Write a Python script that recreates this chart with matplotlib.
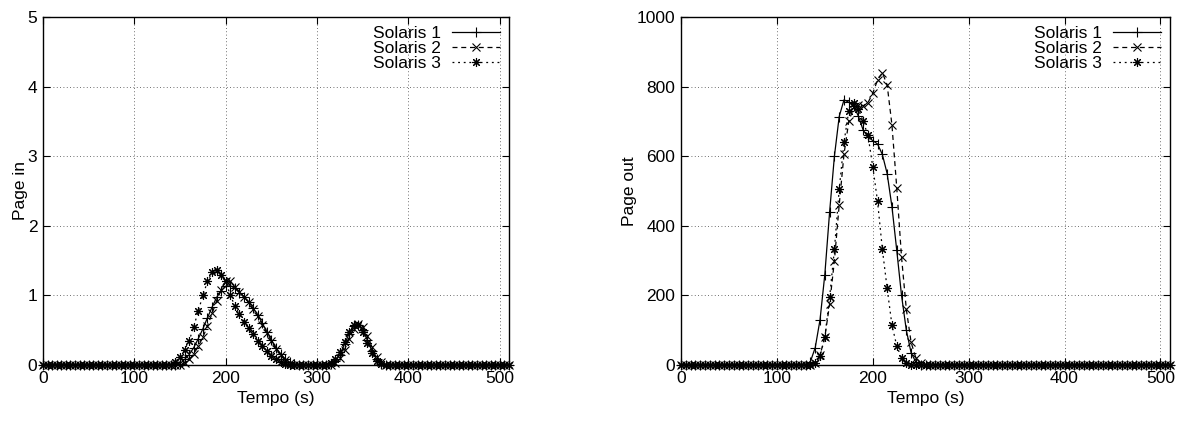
import matplotlib.pyplot as plt
import numpy as np

plt.rcParams['font.family'] = ['Liberation Sans', 'DejaVu Sans']
plt.rcParams['font.size'] = 12.5

# sample times (s), one sample every 5 s
tempo = np.arange(0, 515, 5)

# ---- Page in (left) : non-zero stretches, start time -> values every 5 s
pin_s1_a_start, pin_s1_a = 150, [0.02, 0.08, 0.15, 0.25, 0.38, 0.52, 0.68, 0.83, 0.97, 1.07, 1.13, 1.14,
                                 1.10, 1.04, 0.98, 0.90, 0.82, 0.72, 0.60, 0.48, 0.36, 0.25, 0.16, 0.09,
                                 0.04, 0.01]
pin_s1_b_start, pin_s1_b = 315, [0.02, 0.06, 0.15, 0.30, 0.45, 0.56, 0.58, 0.50, 0.36, 0.20, 0.08, 0.02]

pin_s2_a_start, pin_s2_a = 155, [0.03, 0.08, 0.16, 0.27, 0.40, 0.56, 0.74, 0.92, 1.08, 1.20, 1.20, 1.12,
                                 1.05, 0.98, 0.90, 0.80, 0.70, 0.58, 0.46, 0.34, 0.23, 0.14, 0.07, 0.03]
pin_s2_b_start, pin_s2_b = 320, [0.03, 0.10, 0.22, 0.38, 0.52, 0.59, 0.55, 0.42, 0.26, 0.12, 0.04]

pin_s3_a_start, pin_s3_a = 145, [0.05, 0.12, 0.22, 0.35, 0.55, 0.78, 1.00, 1.20, 1.33, 1.36, 1.30, 1.20,
                                 1.00, 0.85, 0.73, 0.62, 0.53, 0.44, 0.35, 0.27, 0.20, 0.13, 0.08, 0.04,
                                 0.01]
pin_s3_b_start, pin_s3_b = 315, [0.03, 0.08, 0.18, 0.33, 0.48, 0.57, 0.57, 0.47, 0.32, 0.17, 0.06, 0.01]

# ---- Page out (right)
pout_s1_start, pout_s1 = 130, [0, 10, 50, 130, 260, 440, 600, 714, 762, 755, 745, 715, 675, 655, 645,
                               635, 605, 550, 455, 330, 200, 100, 35, 8, 0]
pout_s2_start, pout_s2 = 140, [5, 28, 80, 175, 300, 460, 606, 700, 740, 748, 745, 754, 781, 819, 840,
                               805, 690, 510, 310, 160, 65, 20, 5]
pout_s3_start, pout_s3 = 140, [5, 25, 80, 195, 332, 505, 640, 730, 753, 735, 700, 660, 570, 470, 333,
                               220, 115, 55, 20, 5, 0]

nomi = ['Solaris 1', 'Solaris 2', 'Solaris 3']


def serie(*tratti):
    y = np.zeros(len(tempo))
    for start, vals in tratti:
        i = int(np.searchsorted(tempo, start))
        y[i:i + len(vals)] = vals
    return y


page_in = [serie((pin_s1_a_start, pin_s1_a), (pin_s1_b_start, pin_s1_b)),
           serie((pin_s2_a_start, pin_s2_a), (pin_s2_b_start, pin_s2_b)),
           serie((pin_s3_a_start, pin_s3_a), (pin_s3_b_start, pin_s3_b))]
page_out = [serie((pout_s1_start, pout_s1)),
            serie((pout_s2_start, pout_s2)),
            serie((pout_s3_start, pout_s3))]

stili = [dict(ls='-', marker='+', ms=7),
         dict(ls=(0, (4, 3)), marker='x', ms=6),
         dict(ls=(0, (1.5, 3)), marker=(8, 2, 0), ms=6.5)]

fig = plt.figure(figsize=(11.78, 4.21), dpi=100)
ax1 = fig.add_axes([43 / 1178, 56 / 421, 466 / 1178, 348 / 421])
ax2 = fig.add_axes([681 / 1178, 56 / 421, 489 / 1178, 348 / 421])


def disegna(ax, dati, ylim, yticks, ylabel):
    for y, nome, st in zip(dati, nomi, stili):
        ax.plot(tempo, y, color='k', lw=0.9, mew=0.8, label=nome,
                clip_on=False, **st)
    ax.set_xlim(0, 510)
    ax.set_ylim(*ylim)
    ax.set_xticks(np.arange(0, 501, 100))
    ax.set_yticks(yticks)
    ax.grid(True, color='0.25', ls=(0, (1, 3)), lw=0.6)
    ax.tick_params(direction='in', top=True, right=True, length=5, width=0.8, pad=4)
    for sp in ax.spines.values():
        sp.set_linewidth(1.0)
    ax.set_xlabel('Tempo (s)', labelpad=4)
    ax.set_ylabel(ylabel, labelpad=0)
    ax.legend(loc='upper right', frameon=False, markerfirst=False, handlelength=2.8,
              handletextpad=0.6, labelspacing=0.0, borderaxespad=0.1, fontsize=12.5)


disegna(ax1, page_in, (0, 5), np.arange(0, 6, 1), 'Page in')
disegna(ax2, page_out, (0, 1000), np.arange(0, 1001, 200), 'Page out')

fig.savefig('out.png', dpi=100)
